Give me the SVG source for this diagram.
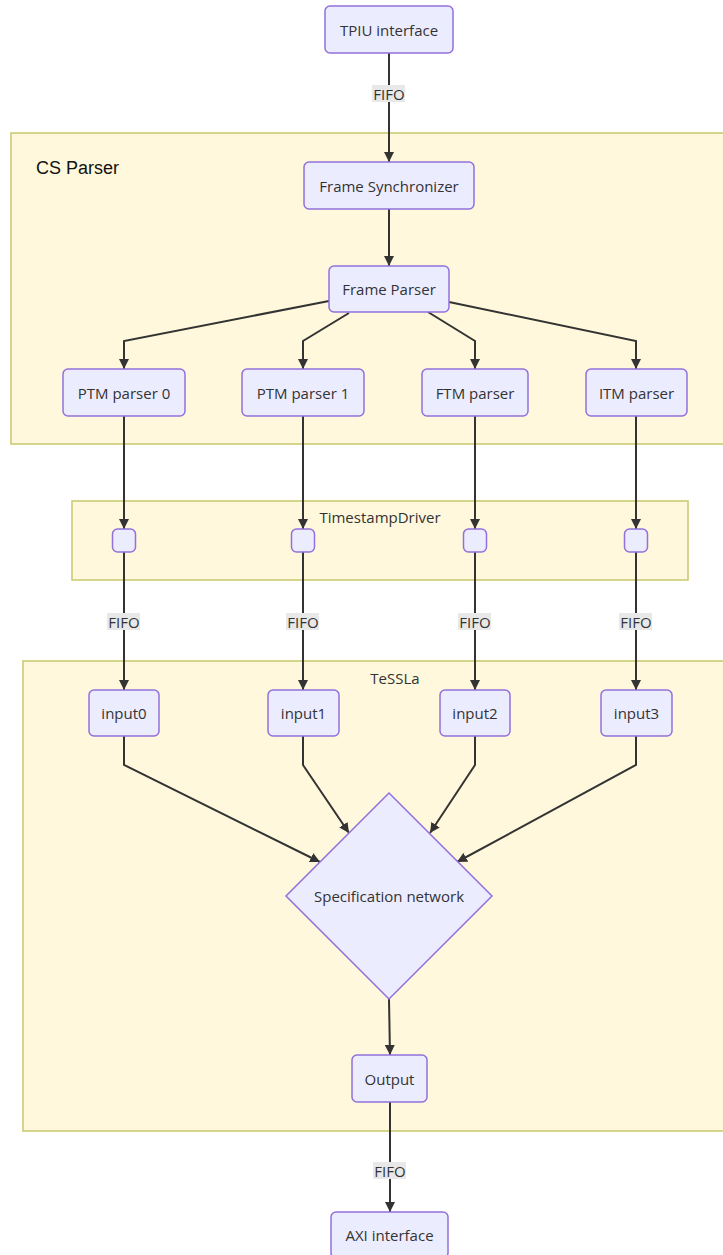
<svg xmlns="http://www.w3.org/2000/svg" width="723" height="1255" viewBox="0 0 723 1255">
<style>
  .cluster { fill: #fff8dc; stroke: #c8c86a; stroke-width: 1.5; }
  .node { fill: #ececff; stroke: #9370db; stroke-width: 1.5; }
  .lbl { font-family: "Open Sans", "DejaVu Sans", sans-serif; font-size: 15px; fill: #333; text-anchor: middle; dominant-baseline: central; }
  .ctitle { font-family: "Liberation Sans", Arial, sans-serif; font-size: 18px; fill: #111; }
  .edge { fill: none; stroke: #333; stroke-width: 2; marker-end: url(#arrow); }
  .elbg { fill: #e8e8e8; }
  .elt { font-family: "Open Sans", "DejaVu Sans", sans-serif; font-size: 15px; fill: #333; text-anchor: middle; dominant-baseline: central; }
</style>
<defs>
  <marker id="arrow" viewBox="0 0 10 10" refX="10" refY="5" markerUnits="userSpaceOnUse" markerWidth="10" markerHeight="10" orient="auto">
    <path d="M0,0 L10,5 L0,10 z" fill="#333"/>
  </marker>
</defs>

<!-- subgraphs -->
<g id="cluster-cs-parser">
  <rect class="cluster" x="11" y="133" width="730" height="311"/>
  <text class="ctitle" x="36" y="174">CS Parser</text>
</g>
<g id="cluster-timestamp-driver">
  <rect class="cluster" x="72" y="501" width="616" height="79"/>
  <text class="lbl" x="380" y="517">TimestampDriver</text>
</g>
<g id="cluster-tessla">
  <rect class="cluster" x="23" y="661" width="730" height="470"/>
  <text class="lbl" x="395" y="678">TeSSLa</text>
</g>

<!-- connectors -->
<g id="edges">
  <path class="edge" d="M389,53 L389,162"/>
  <path class="edge" d="M389,209 L389,266"/>
  <path class="edge" d="M329,301 L124,341 L124,369"/>
  <path class="edge" d="M349,313 L303,341 L303,369"/>
  <path class="edge" d="M428,312 L475,341 L475,369"/>
  <path class="edge" d="M449,302 L636,341 L636,369"/>
  <path class="edge" d="M124,416 L124,529"/>
  <path class="edge" d="M303,416 L303,529"/>
  <path class="edge" d="M475,416 L475,529"/>
  <path class="edge" d="M636,416 L636,529"/>
  <path class="edge" d="M124,552 L124,690"/>
  <path class="edge" d="M303,552 L303,690"/>
  <path class="edge" d="M475,552 L475,690"/>
  <path class="edge" d="M636,552 L636,690"/>
  <path class="edge" d="M124,736 L124,765 L320,862"/>
  <path class="edge" d="M303,736 L303,765 L349,833"/>
  <path class="edge" d="M475,736 L475,765 L430,833"/>
  <path class="edge" d="M636,736 L636,765 L457,862"/>
  <path class="edge" d="M389,999 L390,1055"/>
  <path class="edge" d="M390,1102 L390,1212"/>
  <!-- edge labels -->
  <rect class="elbg" x="372" y="85" width="33" height="17"/>
  <text class="elt" x="389" y="93.5">FIFO</text>
  <rect class="elbg" x="107" y="613" width="33" height="17"/>
  <text class="elt" x="124" y="621.5">FIFO</text>
  <rect class="elbg" x="286" y="613" width="33" height="17"/>
  <text class="elt" x="303" y="621.5">FIFO</text>
  <rect class="elbg" x="458" y="613" width="33" height="17"/>
  <text class="elt" x="475" y="621.5">FIFO</text>
  <rect class="elbg" x="619" y="613" width="33" height="17"/>
  <text class="elt" x="636" y="621.5">FIFO</text>
  <rect class="elbg" x="373" y="1162" width="33" height="17"/>
  <text class="elt" x="390" y="1170.5">FIFO</text>
</g>

<!-- nodes -->
<g id="tpiu"><rect class="node" x="325" y="6" width="128" height="47" rx="5"/><text class="lbl" x="389" y="29.5">TPIU interface</text></g>
<g id="frame-sync"><rect class="node" x="304" y="162" width="170" height="47" rx="5"/><text class="lbl" x="389" y="185.5">Frame Synchronizer</text></g>
<g id="frame-parser"><rect class="node" x="329" y="266" width="120" height="46" rx="5"/><text class="lbl" x="389" y="289">Frame Parser</text></g>
<g id="ptm0"><rect class="node" x="63" y="369" width="122" height="47" rx="5"/><text class="lbl" x="124" y="392.5">PTM parser 0</text></g>
<g id="ptm1"><rect class="node" x="242" y="369" width="122" height="47" rx="5"/><text class="lbl" x="303" y="392.5">PTM parser 1</text></g>
<g id="ftm"><rect class="node" x="422" y="369" width="106" height="47" rx="5"/><text class="lbl" x="475" y="392.5">FTM parser</text></g>
<g id="itm"><rect class="node" x="586" y="369" width="101" height="47" rx="5"/><text class="lbl" x="636.5" y="392.5">ITM parser</text></g>
<g id="ts0"><rect class="node" x="112.5" y="529" width="23" height="23" rx="5"/></g>
<g id="ts1"><rect class="node" x="291.5" y="529" width="23" height="23" rx="5"/></g>
<g id="ts2"><rect class="node" x="463.5" y="529" width="23" height="23" rx="5"/></g>
<g id="ts3"><rect class="node" x="624.5" y="529" width="23" height="23" rx="5"/></g>
<g id="input0"><rect class="node" x="89" y="690" width="70" height="46" rx="5"/><text class="lbl" x="124" y="713">input0</text></g>
<g id="input1"><rect class="node" x="268" y="690" width="71" height="46" rx="5"/><text class="lbl" x="303.5" y="713">input1</text></g>
<g id="input2"><rect class="node" x="440" y="690" width="70" height="46" rx="5"/><text class="lbl" x="475" y="713">input2</text></g>
<g id="input3"><rect class="node" x="601" y="690" width="71" height="46" rx="5"/><text class="lbl" x="636.5" y="713">input3</text></g>
<g id="spec-network"><polygon class="node" points="389,793 492,896 389,999 286,896"/><text class="lbl" x="389" y="896">Specification network</text></g>
<g id="output"><rect class="node" x="352" y="1055" width="75" height="47" rx="5"/><text class="lbl" x="389.5" y="1078.5">Output</text></g>
<g id="axi"><rect class="node" x="331" y="1212" width="117" height="46" rx="5"/><text class="lbl" x="389.5" y="1235">AXI interface</text></g>
</svg>
